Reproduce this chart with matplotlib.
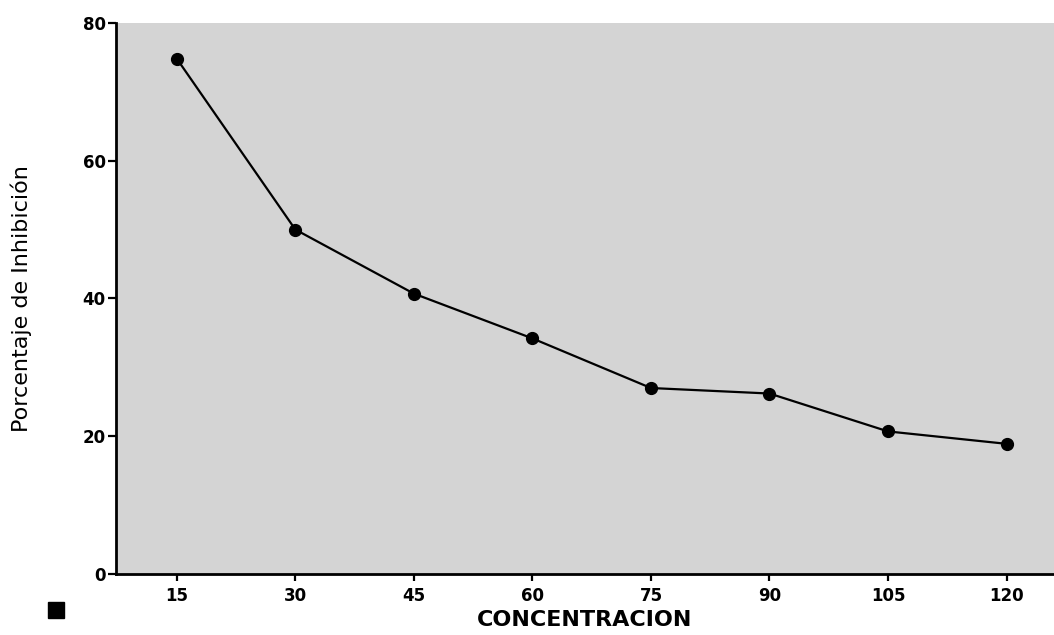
import numpy as np
import matplotlib.pyplot as plt
from matplotlib.lines import Line2D

plt.rcParams['font.family'] = ['DejaVu Sans']

conc = np.array([15, 30, 45, 60, 75, 90, 105, 120])
inhib = np.array([74.8, 50.0, 40.7, 34.2, 27.0, 26.2, 20.7, 18.9])
y_ticks = [0, 20, 40, 60, 80]

fig = plt.figure(figsize=(10.54, 6.35), dpi=100)
ax = fig.add_axes([0.110, 0.096, 0.890, 0.868])
ax.set_facecolor("#d4d4d4")

ax.plot(conc, inhib, "-o", color="black", linewidth=1.6, markersize=8.5)

ax.set_xlim(7.3, 126)
ax.set_ylim(0, 80)
ax.set_xticks(conc)
ax.set_yticks(y_ticks)
ax.tick_params(axis="x", direction="out", length=5, width=1.6, labelsize=12, pad=4)
ax.tick_params(axis="y", direction="out", length=6, width=1.6, labelsize=12, pad=1.5)
for lbl in ax.get_xticklabels() + ax.get_yticklabels():
    lbl.set_fontweight("bold")

for side in ["top", "right"]:
    ax.spines[side].set_visible(False)
for side in ["left", "bottom"]:
    ax.spines[side].set_linewidth(2)

ax.set_xlabel("CONCENTRACION", fontsize=16, fontweight="bold", labelpad=4)
ax.set_ylabel("Porcentaje de Inhibición", fontsize=16, labelpad=36)

# legend-like square in the lower left corner
fig.add_artist(Line2D([0.053], [0.039], marker="s", markersize=11.5,
                      color="black", transform=fig.transFigure))

fig.savefig("out.png", dpi=100)
